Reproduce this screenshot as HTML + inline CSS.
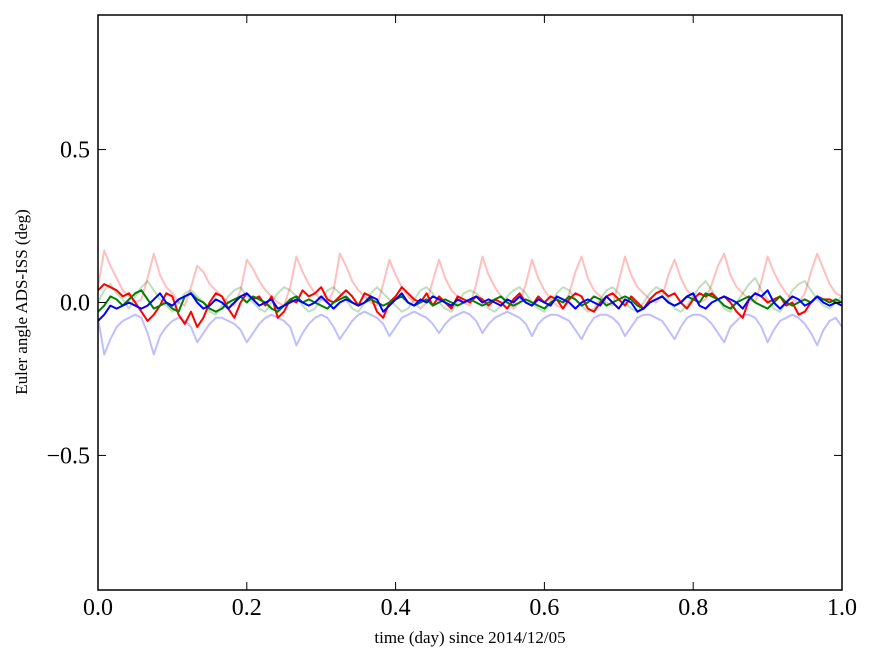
<!DOCTYPE html>
<html><head><meta charset="utf-8"><style>
html,body{margin:0;padding:0;background:#fff;}
svg{display:block;font-family:"Liberation Serif",serif;}
</style></head><body>
<svg id="chart" width="875" height="662">
<rect x="0" y="0" width="875" height="662" fill="#fff"/>
<g id="series"></g>
<g id="axes"></g>
<text x="470" y="643" font-size="17" text-anchor="middle">time (day) since 2014/12/05</text>
<text transform="translate(27,302) rotate(-90)" font-size="17" text-anchor="middle">Euler angle ADS-ISS (deg)</text>
</svg>
<script>
const xTicks=[0,0.2,0.4,0.6,0.8,1.0];
const xTickLabels=["0.0","0.2","0.4","0.6","0.8","1.0"];
const yTicks=[-0.5,0,0.5];
const yTickLabels=["\u22120.5","0.0","0.5"];
const faintRed=[0.05,0.17,0.12,0.08,0.04,0.02,0.0,0.01,0.08,0.16,0.09,0.05,0.03,0.0,-0.01,0.05,0.12,0.10,0.06,0.04,0.02,0.0,-0.01,0.04,0.14,0.11,0.07,0.04,0.02,0.0,-0.01,0.05,0.15,0.10,0.06,0.03,0.01,0.0,0.04,0.16,0.12,0.07,0.04,0.02,0.0,-0.01,0.06,0.14,0.09,0.05,0.02,0.0,-0.02,0.0,0.07,0.14,0.08,0.04,0.02,0.0,-0.01,0.06,0.15,0.09,0.05,0.02,0.0,-0.02,0.0,0.06,0.14,0.08,0.04,0.01,-0.01,-0.02,0.03,0.10,0.15,0.08,0.04,0.02,0.0,-0.01,0.07,0.15,0.09,0.05,0.03,0.01,0.0,0.02,0.09,0.14,0.08,0.04,0.02,0.0,0.01,0.06,0.12,0.16,0.09,0.05,0.03,0.01,0.0,0.07,0.15,0.10,0.06,0.03,0.01,0.0,0.03,0.10,0.16,0.11,0.06,0.03,0.02];
const faintBlue=[-0.05,-0.17,-0.12,-0.08,-0.06,-0.05,-0.04,-0.05,-0.10,-0.17,-0.11,-0.08,-0.06,-0.05,-0.06,-0.08,-0.13,-0.10,-0.07,-0.05,-0.05,-0.06,-0.07,-0.09,-0.13,-0.10,-0.07,-0.05,-0.04,-0.05,-0.06,-0.08,-0.14,-0.10,-0.07,-0.05,-0.04,-0.05,-0.08,-0.12,-0.09,-0.06,-0.04,-0.03,-0.04,-0.05,-0.07,-0.11,-0.08,-0.05,-0.04,-0.03,-0.04,-0.05,-0.07,-0.10,-0.07,-0.05,-0.04,-0.03,-0.04,-0.06,-0.10,-0.07,-0.05,-0.04,-0.03,-0.04,-0.05,-0.07,-0.11,-0.07,-0.05,-0.04,-0.04,-0.05,-0.06,-0.09,-0.12,-0.08,-0.05,-0.04,-0.04,-0.05,-0.07,-0.11,-0.08,-0.05,-0.04,-0.04,-0.05,-0.06,-0.09,-0.12,-0.08,-0.05,-0.04,-0.04,-0.05,-0.07,-0.10,-0.13,-0.08,-0.06,-0.04,-0.04,-0.05,-0.08,-0.13,-0.09,-0.06,-0.05,-0.04,-0.05,-0.07,-0.10,-0.14,-0.09,-0.06,-0.05,-0.08];
const faintGreen=[0.0,0.04,0.06,0.03,0.01,-0.02,0.02,0.05,0.07,0.04,0.01,-0.01,-0.03,0.0,0.03,0.04,0.02,0.0,-0.03,-0.04,-0.01,0.02,0.04,0.05,0.02,0.0,-0.02,-0.03,0.0,0.03,0.05,0.04,0.02,-0.01,-0.03,-0.02,0.01,0.04,0.05,0.03,0.01,-0.02,-0.03,0.0,0.03,0.05,0.03,0.01,-0.01,-0.03,-0.02,0.01,0.04,0.05,0.03,0.0,-0.02,-0.03,0.0,0.03,0.04,0.03,0.01,-0.02,-0.03,-0.01,0.02,0.04,0.05,0.03,0.0,-0.02,-0.03,0.0,0.03,0.05,0.04,0.01,-0.01,-0.03,-0.02,0.01,0.04,0.05,0.03,0.0,-0.02,-0.03,0.0,0.03,0.05,0.04,0.01,-0.02,-0.03,-0.01,0.02,0.05,0.07,0.04,0.01,-0.02,-0.03,0.0,0.03,0.06,0.08,0.04,0.01,-0.02,-0.03,0.0,0.04,0.06,0.07,0.04,0.01,-0.01,-0.02,0.0,0.02];
const mainRed=[0.04,0.06,0.05,0.04,0.02,0.03,0.0,-0.03,-0.06,-0.04,-0.01,0.03,0.02,-0.04,-0.07,-0.03,-0.08,-0.05,0.0,0.03,0.02,-0.02,-0.05,0.0,0.03,0.01,0.02,-0.01,0.02,-0.05,-0.03,0.01,0.0,0.04,0.02,0.03,0.05,0.01,0.0,0.02,0.04,0.02,-0.01,0.03,0.02,-0.03,-0.05,0.0,0.02,0.05,0.03,0.01,0.0,0.03,-0.01,0.02,0.0,-0.02,0.02,0.01,0.0,0.02,0.01,-0.01,0.01,0.0,-0.02,0.01,0.03,0.0,-0.01,0.02,0.0,0.02,0.01,-0.02,0.01,0.03,0.02,-0.02,-0.03,0.0,0.02,0.03,0.01,-0.01,0.02,0.0,-0.02,0.01,0.03,0.04,0.02,0.03,0.0,-0.02,0.01,0.03,0.02,0.03,0.01,0.02,0.0,-0.03,-0.05,0.01,0.03,0.02,0.0,0.01,0.02,-0.01,0.0,-0.04,-0.03,0.0,0.02,0.01,0.01,0.0,-0.01];
const mainGreen=[-0.03,-0.01,0.02,0.01,-0.01,0.01,0.03,0.04,0.01,-0.02,-0.01,0.0,-0.02,-0.03,0.02,0.03,0.01,0.0,-0.02,-0.03,-0.02,0.0,0.01,0.02,0.0,0.02,0.01,0.0,-0.02,-0.03,-0.01,0.01,0.02,0.0,0.01,0.0,-0.01,-0.02,0.0,0.01,0.02,0.0,-0.01,0.0,0.01,0.0,-0.01,0.0,0.01,0.02,0.0,-0.01,0.0,0.01,-0.01,0.0,0.01,0.0,-0.01,0.0,0.01,0.0,-0.01,0.0,0.01,0.02,0.0,-0.01,0.0,0.01,0.0,-0.01,-0.02,0.0,0.01,0.0,0.02,0.01,-0.01,0.0,0.02,0.01,-0.01,0.0,0.01,0.02,0.01,-0.01,-0.02,0.0,0.01,0.02,0.0,-0.01,0.0,0.02,0.01,0.0,0.03,0.02,0.01,-0.01,-0.02,0.0,0.01,0.02,0.0,-0.01,-0.02,0.0,0.02,0.0,-0.01,0.0,0.01,0.0,0.02,0.01,0.0,0.01,0.0];
const mainBlue=[-0.06,-0.04,-0.01,-0.02,-0.01,0.0,-0.01,-0.02,-0.01,0.01,0.03,0.0,-0.01,0.01,0.02,0.03,0.0,-0.02,-0.01,0.01,0.0,-0.02,0.0,0.02,0.03,0.01,-0.01,0.0,0.01,-0.02,-0.01,0.0,0.01,0.0,-0.01,0.0,0.02,0.0,-0.02,0.0,0.01,0.0,-0.01,0.0,0.02,0.01,-0.03,-0.01,0.01,0.03,0.0,-0.01,0.01,0.0,0.02,0.01,0.0,-0.01,0.01,0.0,0.01,0.02,0.0,0.01,0.0,-0.01,0.01,0.0,0.02,0.0,-0.01,0.01,0.0,-0.01,0.02,0.01,0.0,-0.02,0.0,0.01,0.0,-0.01,0.02,0.0,-0.02,0.01,0.0,-0.03,-0.02,0.0,0.01,0.02,0.0,-0.01,0.0,0.02,0.03,-0.01,-0.02,0.0,0.01,0.02,0.01,0.0,-0.02,0.01,0.03,0.02,0.04,0.0,-0.02,0.0,0.02,0.01,-0.01,0.0,0.02,0.0,-0.01,0.0,-0.01];

const X0=98,X1=842,Y0=15,Y1=590,YMIN=-0.94,YMAX=0.94;
const sx=v=>X0+(v-0)/(1-0)*(X1-X0);
const sy=v=>Y1-(v-YMIN)/(YMAX-YMIN)*(Y1-Y0);
const NS="http://www.w3.org/2000/svg";
const series=document.getElementById('series');
const axes=document.getElementById('axes');
function drawLine(arr,color,op,w,name){
  const n=arr.length;
  const d=arr.map((v,i)=>(i?'L':'M')+sx(i/(n-1)).toFixed(1)+','+sy(v).toFixed(1)).join(' ');
  const p=document.createElementNS(NS,'path');
  p.setAttribute('d',d);p.setAttribute('fill','none');p.setAttribute('stroke',color);
  p.setAttribute('stroke-opacity',op);p.setAttribute('stroke-width',w);p.setAttribute('stroke-linejoin','round');
  
  
  series.appendChild(p);
}
drawLine(faintRed,'#ff0000',0.25,2,'faint-red-series');
drawLine(faintBlue,'#0000ff',0.25,2,'faint-blue-series');
drawLine(faintGreen,'#008000',0.25,2,'faint-green-series');
drawLine(mainRed,'#ff0000',1,2,'red-series');
drawLine(mainGreen,'#008000',1,2,'green-series');
drawLine(mainBlue,'#0000ff',1,2,'blue-series');

const frame=document.createElementNS(NS,'rect');
frame.setAttribute('x',X0);frame.setAttribute('y',Y0);frame.setAttribute('width',X1-X0);frame.setAttribute('height',Y1-Y0);
frame.setAttribute('fill','none');frame.setAttribute('stroke','#000');frame.setAttribute('stroke-width','1.5');


axes.appendChild(frame);
function mk(tag,attrs){const e=document.createElementNS(NS,tag);for(const k in attrs)e.setAttribute(k,attrs[k]);return e;}
xTicks.forEach((t,i)=>{
  const x=sx(t);
  const g=mk('g',{});
  
  
  g.appendChild(mk('line',{x1:x,y1:Y1,x2:x,y2:Y1-8,stroke:'#000','stroke-width':1}));
  g.appendChild(mk('line',{x1:x,y1:Y0,x2:x,y2:Y0+8,stroke:'#000','stroke-width':1}));
  const tx=mk('text',{x:x,y:Y1+25,'font-size':24,'text-anchor':'middle'});
  tx.textContent=xTickLabels[i];
  
  
  g.appendChild(tx);axes.appendChild(g);
});
yTicks.forEach((t,i)=>{
  const y=sy(t);
  const g=mk('g',{});
  
  
  g.appendChild(mk('line',{x1:X0,y1:y,x2:X0+8,y2:y,stroke:'#000','stroke-width':1}));
  g.appendChild(mk('line',{x1:X1,y1:y,x2:X1-8,y2:y,stroke:'#000','stroke-width':1}));
  const tx=mk('text',{x:X0-8,y:y+8,'font-size':24,'text-anchor':'end'});
  tx.textContent=yTickLabels[i];
  
  
  g.appendChild(tx);axes.appendChild(g);
});
</script>
</body></html>
